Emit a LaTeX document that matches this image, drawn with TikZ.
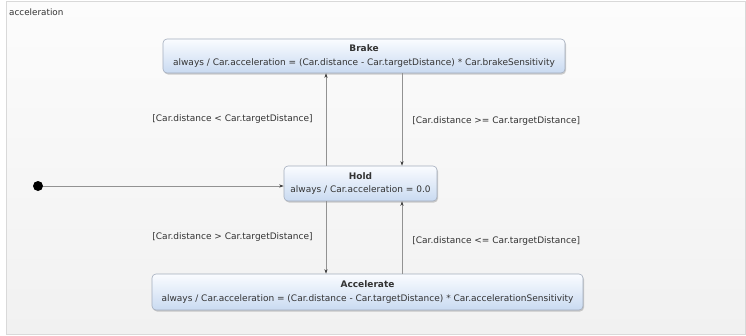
\documentclass[tikz,border=0pt]{standalone}
\usepackage{fontspec}
\setmainfont{DejaVu Sans}
\usetikzlibrary{arrows.meta,shadows}

\definecolor{framegray}{HTML}{D9D9D9}
\definecolor{bgtop}{HTML}{FCFCFC}
\definecolor{bgbottom}{HTML}{F1F1F1}
\definecolor{statetop}{HTML}{FAFCFF}
\definecolor{statebottom}{HTML}{C9DAF1}
\definecolor{stateborder}{HTML}{A3ADBD}
\definecolor{wire}{HTML}{929292}
\definecolor{labeltext}{HTML}{333333}
\definecolor{tipcolor}{HTML}{404040}

\tikzset{
  statebox/.style={draw=stateborder, rounded corners=4pt, line width=0.6pt,
    top color=statetop, bottom color=statebottom,
    drop shadow={shadow xshift=1pt, shadow yshift=-1.5pt, fill=black, opacity=0.18},
    align=center, inner sep=0pt, font=\fontsize{9}{13.5}\selectfont, text=labeltext},
  transition/.style={draw=wire, line width=0.7pt,
    -{Stealth[length=4.5pt, width=3.2pt, color=tipcolor, fill=tipcolor]}},
  guard/.style={font=\fontsize{9}{11}\selectfont, text=labeltext, inner sep=0pt},
}

\begin{document}
\begin{tikzpicture}[x=1pt, y=-1pt]
  \useasboundingbox (0,0) rectangle (746,335);
  % region frame
  \path[top color=bgtop, bottom color=bgbottom, draw=framegray, line width=0.8pt]
    (6,1.5) rectangle (745,334);
  \node[anchor=west, font=\fontsize{8.8}{10}\selectfont, text=labeltext, inner sep=0pt]
    (regiontitle) at (9,12) {acceleration};

  % states
  \node[statebox, minimum width=402pt, minimum height=34pt] (brake) at (364,56)
    {\textbf{Brake}\\always / Car.acceleration = (Car.distance - Car.targetDistance) * Car.brakeSensitivity};
  \node[statebox, minimum width=153pt, minimum height=35pt] (hold) at (360.5,183.5)
    {\textbf{Hold}\\always / Car.acceleration = 0.0};
  \node[statebox, minimum width=431pt, minimum height=36pt] (accel) at (367.5,292)
    {\textbf{Accelerate}\\always / Car.acceleration = (Car.distance - Car.targetDistance) * Car.accelerationSensitivity};

  % initial pseudostate
  \node[circle, fill=black, minimum size=10pt, inner sep=0pt] (init) at (38,186) {};
  \draw[transition] (init) -- (init -| hold.west);

  % columns for the vertical transitions
  \coordinate (xl) at (326,0);
  \coordinate (xr) at (402,0);

  \draw[transition] (hold.north -| xl) -- (brake.south -| xl)
    node[guard, midway, left=13pt] {[Car.distance < Car.targetDistance]};
  \draw[transition] (brake.south -| xr) -- (hold.north -| xr)
    node[guard, pos=0.52, right=10pt] {[Car.distance >= Car.targetDistance]};
  \draw[transition] (hold.south -| xl) -- (accel.north -| xl)
    node[guard, midway, left=13pt] {[Car.distance > Car.targetDistance]};
  \draw[transition] (accel.north -| xr) -- (hold.south -| xr)
    node[guard, pos=0.45, right=10pt] {[Car.distance <= Car.targetDistance]};
\end{tikzpicture}
\end{document}
